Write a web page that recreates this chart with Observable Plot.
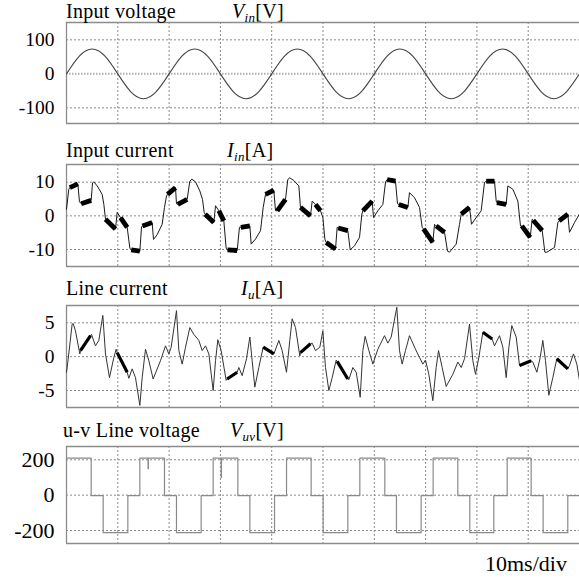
<!DOCTYPE html>
<html><head><meta charset="utf-8">
<script src="https://cdn.jsdelivr.net/npm/d3@7"></script>
<script src="https://cdn.jsdelivr.net/npm/@observablehq/plot@0.6"></script>
<style>
body{margin:0;background:#fff;}
#root{position:relative;width:579px;height:581px;overflow:hidden;font-family:"Liberation Serif","Times New Roman",serif;color:#000;}
.t{position:absolute;white-space:nowrap;font-size:20px;line-height:20px;letter-spacing:0.3px;}
.t sub{font-size:13px;vertical-align:baseline;position:relative;top:4px;font-style:italic;}
.p{position:absolute;left:0;}
</style></head><body><div id="root"></div>
<script>
// ---- data (time in ms, 10 ms / div) ----
const xDivs = [10,20,30,40,50,60,70,80,90];

const vinTimes = [0,2.5,5,7.5,10,12.5,15,17.5,20,22.5,25,27.5,30,32.5,35,37.5,40,42.5,45,47.5,50,52.5,55,57.5,60,62.5,65,67.5,70,72.5,75,77.5,80,82.5,85,87.5,90,92.5,95,97.5,100];
const vinValues = [0,52,73,52,0,-52,-73,-52,0,52,73,52,0,-52,-73,-52,0,52,73,52,0,-52,-73,-52,0,52,73,52,0,-52,-73,-52,0,52,73,52,0,-52,-73,-52,0];

const inputCurrent = [[0.00,2.0],[0.45,7.9],[0.65,8.4],[2.21,9.5],[2.53,4.2],[2.86,3.6],[4.81,4.6],[5.07,9.8],[5.33,10.1],[5.98,8.9],[6.95,6.4],[7.28,3.4],[7.60,-1.0],[9.55,-3.9],[9.88,1.0],[10.53,-0.5],[11.83,-3.4],[12.35,-9.6],[12.61,-10.1],[14.30,-10.5],[14.62,-3.3],[14.81,-3.0],[16.70,-2.0],[16.96,-7.0],[17.67,-5.6],[18.65,-2.5],[19.10,2.5],[19.49,5.9],[19.69,6.4],[21.25,8.4],[21.44,3.6],[21.70,3.4],[23.52,4.9],[24.04,10.3],[24.43,10.9],[25.15,10.1],[25.99,7.4],[26.51,4.9],[26.84,1.0],[27.03,0.5],[28.72,-2.0],[29.05,3.0],[29.70,1.5],[30.67,-1.5],[31.12,-9.6],[31.38,-10.1],[33.27,-10.3],[33.72,-3.4],[33.98,-3.4],[35.74,-3.0],[36.00,-8.4],[36.84,-6.9],[37.82,-4.4],[38.34,2.5],[38.79,6.4],[40.42,7.6],[40.74,1.5],[41.07,1.5],[42.69,4.9],[43.14,10.8],[43.53,11.3],[44.31,10.5],[45.29,8.9],[45.61,2.5],[47.56,0.0],[47.89,4.4],[48.54,3.4],[49.51,1.5],[49.97,-0.5],[50.36,-6.9],[50.62,-7.9],[52.44,-9.9],[52.76,-3.4],[52.96,-3.6],[54.84,-4.4],[55.30,-10.1],[56.14,-8.9],[57.12,-6.4],[57.57,0.5],[57.77,1.5],[59.59,4.4],[59.85,-0.5],[60.69,1.5],[61.67,3.4],[62.19,10.1],[62.51,10.8],[64.13,10.3],[64.52,3.6],[64.78,3.4],[66.54,2.5],[66.86,6.9],[67.84,5.4],[68.81,2.5],[69.33,-3.4],[69.59,-3.9],[71.41,-7.9],[71.74,-2.5],[72.06,-3.0],[73.69,-4.9],[74.27,-10.5],[74.66,-10.8],[75.96,-8.4],[76.61,-2.5],[76.94,0.5],[78.56,2.5],[78.95,-2.5],[79.86,-0.5],[80.83,1.5],[81.48,9.9],[81.81,10.3],[83.43,10.3],[83.76,4.4],[83.89,3.9],[85.71,3.4],[86.03,8.9],[87.01,7.9],[87.98,4.4],[88.50,-3.0],[88.76,-3.0],[90.39,-6.4],[90.78,-1.0],[90.97,-1.3],[92.73,-4.4],[93.25,-10.8],[93.64,-10.8],[95.13,-9.4],[95.78,-2.0],[96.04,-1.5],[97.73,0.5],[98.05,-4.9],[99.03,-2.0],[100,0.6]];
const inputCurrentRipple = [[0.65,2.21],[2.86,4.81],[7.60,9.55],[10.53,11.83],[12.61,14.30],[14.81,16.70],[19.69,21.25],[21.70,23.52],[27.03,28.72],[29.70,30.67],[31.38,33.27],[33.98,35.74],[38.79,40.42],[41.07,42.69],[45.61,47.56],[48.54,49.51],[50.62,52.44],[52.96,54.84],[57.77,59.59],[62.51,64.13],[64.78,66.54],[69.59,71.41],[72.06,73.69],[76.94,78.56],[81.81,83.43],[83.89,85.71],[88.76,90.39],[90.97,92.73],[96.04,97.73]];

const lineCurrent = [[0.00,-2.3],[0.26,-0.8],[1.10,4.8],[1.30,4.9],[1.75,3.8],[2.60,0.4],[2.73,0.9],[4.68,3.1],[4.87,3.3],[5.65,1.6],[6.30,2.4],[7.08,6.1],[7.60,0.4],[8.38,-3.1],[9.23,-0.1],[9.68,1.1],[9.88,0.6],[11.83,-2.3],[12.15,-3.2],[12.80,-1.8],[13.45,-3.1],[14.30,-7.2],[14.75,-3.1],[15.40,1.1],[16.05,-0.6],[16.89,-3.3],[18.32,-0.6],[19.30,1.6],[19.95,0.4],[20.40,1.4],[21.44,6.8],[21.90,0.9],[22.55,-1.1],[23.20,1.4],[24.04,4.3],[24.82,3.3],[25.80,2.4],[26.45,0.9],[27.10,1.6],[27.75,0.4],[28.59,-5.0],[29.05,-0.6],[29.50,2.5],[30.15,0.9],[31.12,-3.5],[31.32,-3.3],[33.27,-2.3],[33.59,-1.6],[34.24,-2.8],[35.09,-0.3],[35.74,2.9],[36.19,-0.6],[36.71,-4.5],[37.49,-1.6],[38.34,1.4],[40.42,0.4],[41.39,2.4],[42.04,0.9],[42.88,-2.3],[43.53,2.4],[43.99,5.6],[44.64,4.3],[45.48,0.1],[45.61,0.6],[47.56,1.9],[47.89,2.0],[48.54,0.9],[49.38,1.4],[49.97,3.8],[50.49,-1.6],[51.14,-5.0],[51.79,-3.1],[52.57,-0.5],[52.76,-0.7],[54.84,-3.3],[55.04,-3.4],[55.82,-1.6],[56.47,-2.3],[57.25,-6.0],[57.77,0.9],[58.22,3.0],[58.94,0.9],[59.72,-1.1],[60.69,1.1],[61.99,3.1],[62.64,2.0],[63.29,2.9],[64.39,7.3],[64.91,0.9],[65.43,-1.1],[66.08,0.9],[66.86,3.1],[67.84,1.4],[68.81,-0.1],[69.46,-1.1],[69.98,-0.5],[70.63,-2.6],[71.41,-6.5],[72.06,-1.6],[72.52,0.9],[73.23,-1.6],[74.01,-4.4],[75.31,-2.6],[76.29,-0.8],[76.94,-1.6],[77.59,-0.3],[78.56,4.8],[79.21,-0.6],[79.73,-2.6],[80.38,-0.1],[81.16,3.6],[82.98,2.6],[83.43,1.6],[84.41,3.1],[85.06,1.4],[85.71,-3.1],[86.23,1.4],[86.81,4.6],[87.66,2.9],[88.31,-1.3],[90.58,-0.6],[90.91,-0.8],[91.69,-2.3],[92.34,-0.1],[92.85,2.4],[93.37,-0.6],[94.02,-5.7],[94.80,-3.1],[95.58,-0.3],[97.73,-1.8],[98.05,-1.3],[98.83,0.4],[99.48,-1.1],[100,-3.5]];
const lineCurrentRipple = [[2.73,4.68],[9.88,11.83],[31.32,33.27],[38.34,40.42],[45.61,47.56],[52.76,54.84],[81.16,82.98],[88.31,90.58],[95.58,97.73]];

const vuvTimes  = [0,4.81,7.15,11.96,14.30,15.90,15.96,19.10,21.44,26.25,28.59,30.15,30.21,33.40,35.74,40.55,42.89,47.69,50.03,54.84,57.18,62.05,64.32,69.13,71.47,76.28,78.62,83.30,85.90,90.57,92.91,97.72,100];
const vuvLevels = [210,-3,-212,-3,210,150,210,-3,-212,-3,210,100,210,-3,-212,-3,210,-3,-212,-3,210,-3,-212,-3,210,-3,-212,-3,210,-3,-212,-3,-3];

const panels = [
  {title:"Input voltage", sym:'<i>V</i><sub>in</sub>[V]', symX:232, titleX:66, base:17.3, top:21, height:103, yDomain:[-146,151], yTicks:[-100,0,100], fs:19.5},
  {title:"Input current", sym:'<i>I</i><sub>in</sub>[A]', symX:227, titleX:66, base:156.7, top:163, height:104, yDomain:[-15.05,15.26], yTicks:[-10,0,10], fs:19.5},
  {title:"Line current", sym:'<i>I</i><sub>u</sub>[A]', symX:241, titleX:66, base:295, top:304, height:104, yDomain:[-7.51,7.56], yTicks:[-5,0,5], fs:19.5},
  {title:"u-v Line voltage", sym:'<i>V</i><sub>uv</sub>[V]', symX:230, titleX:63, base:436.7, top:445, height:99, yDomain:[-273.5,275.2], yTicks:[-200,0,200], fs:22}
];

const root = document.getElementById("root");
const serif = '"Liberation Serif","Times New Roman",serif';
const gridStyle = {stroke:"#8a8a8a", strokeDasharray:"2,2", strokeWidth:1};
const frameStyle = {stroke:"#8c8c8c", strokeWidth:1.3};

function ripplePoints(series, bands) {
  const out = [];
  bands.forEach(([s,e], i) => series.forEach(d => { if (d[0] >= s - 1e-9 && d[0] <= e + 1e-9) out.push({t:d[0], v:d[1], band:i}); }));
  return out;
}

const vinData = vinTimes.map((t,i) => ({t, v: vinValues[i]}));
const vuvData = vuvTimes.map((t,i) => ({t, v: vuvLevels[i]}));
const inData = inputCurrent.map(d => ({t:d[0], v:d[1]}));
const luData = lineCurrent.map(d => ({t:d[0], v:d[1]}));

const seriesMarks = [
  [Plot.line(vinData, {x:"t", y:"v", curve:"natural", stroke:"#444", strokeWidth:1.1})],
  [Plot.line(inData, {x:"t", y:"v", stroke:"#1a1a1a", strokeWidth:1}),
   Plot.line(ripplePoints(inputCurrent, inputCurrentRipple), {x:"t", y:"v", z:"band", stroke:"#000", strokeWidth:4.8, strokeLinecap:"butt"})],
  [Plot.line(luData, {x:"t", y:"v", stroke:"#333", strokeWidth:1}),
   Plot.line(ripplePoints(lineCurrent, lineCurrentRipple), {x:"t", y:"v", z:"band", stroke:"#000", strokeWidth:3.2, strokeLinecap:"butt"})],
  [Plot.line(vuvData, {x:"t", y:"v", curve:"step-after", stroke:"#8a8a8a", strokeWidth:1.2})]
];

panels.forEach((p, k) => {
  const zeroGrid = k === 0
    ? Plot.ruleY([0], {stroke:"#b0b0b0", strokeDasharray:"1.5,1.5", strokeWidth:2})
    : Plot.ruleY([0], gridStyle);
  const svg = Plot.plot({
    width: 579, height: p.height,
    marginLeft: 66, marginRight: 0, marginTop: 1, marginBottom: 1,
    x: {domain:[0,100], axis:null},
    y: {domain:p.yDomain, axis:null},
    style: {fontFamily:serif, fontSize:p.fs + "px", color:"#000", background:"transparent", overflow:"visible"},
    marks: [
      Plot.ruleX(xDivs, gridStyle),
      Plot.ruleY(p.yTicks.filter(v => v !== 0), gridStyle),
      zeroGrid,
      Plot.ruleY(p.yDomain, frameStyle),
      Plot.ruleX([0], frameStyle),
      Plot.axisY(p.yTicks, {tickSize:0, tickPadding:12, tickFormat:d => String(d), label:null, fontSize:p.fs, fontFamily:serif, fill:"#000"}),
      ...seriesMarks[k]
    ]
  });
  d3.select(svg).selectAll("text").style("font-family", serif).style("font-size", p.fs + "px");
  svg.classList.add("p");
  svg.style.top = p.top + "px";
  root.appendChild(svg);

  const t = document.createElement("div");
  t.className = "t";
  t.textContent = p.title;
  t.style.left = p.titleX + "px";
  t.style.top = (p.base - 16.75) + "px";
  root.appendChild(t);

  const s = document.createElement("div");
  s.className = "t";
  s.innerHTML = p.sym;
  s.style.left = p.symX + "px";
  s.style.top = (p.base - 16.75) + "px";
  root.appendChild(s);
});

const cap = document.createElement("div");
cap.className = "t";
cap.style.fontSize = "22px";
cap.style.lineHeight = "22px";
cap.style.letterSpacing = "0";
cap.textContent = "10ms/div";
cap.style.left = "485px";
cap.style.top = (571.7 - 0.8375*22) + "px";
root.appendChild(cap);
</script>
</body></html>
